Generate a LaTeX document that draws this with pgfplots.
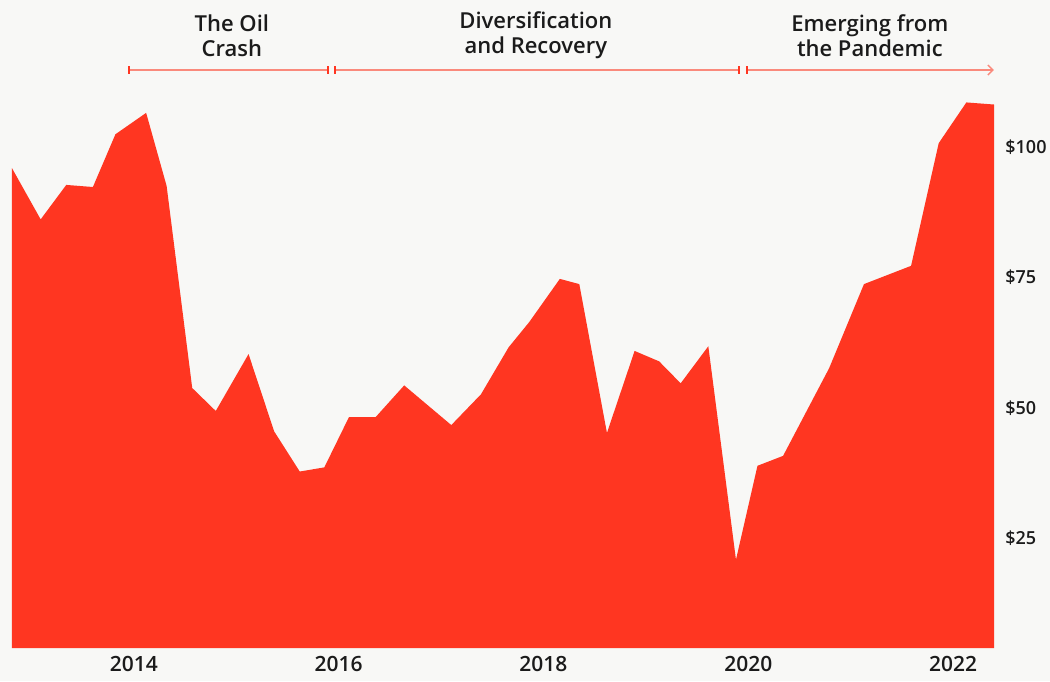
\documentclass[border=0pt]{standalone}
\usepackage{fontspec}
\IfFontExistsTF{Open Sans SemiBold}{%
  \setmainfont{Open Sans}[BoldFont={Open Sans SemiBold}]%
}{%
  \IfFontExistsTF{Open Sans Semibold}{%
    \setmainfont{Open Sans}[BoldFont={Open Sans Semibold}]%
  }{%
    \setmainfont{Open Sans}%
  }%
}
\usepackage{pgfplots}
\pgfplotsset{compat=1.18}
\usetikzlibrary{arrows.meta}
\definecolor{bg}{HTML}{F8F8F6}
\definecolor{dbred}{HTML}{FF3621}
\definecolor{salmon}{HTML}{FA8A7C}
\definecolor{txt}{HTML}{1B1B1B}
\begin{document}
\begin{tikzpicture}
\fill[bg] (-6pt,-16.5pt) rectangle (519pt,324pt);
\begin{axis}[at={(0,0)}, anchor=south west, scale only axis,
  width=491pt, height=276.7pt,
  xmin=2012.81, xmax=2022.40, ymin=4, ymax=110,
  axis line style={draw=none}, major tick length=0pt,
  clip mode=individual,
  ytick={25,50,75,100}, yticklabels={\$25,\$50,\$75,\$100},
  yticklabel pos=right,
  yticklabel style={anchor=west, inner sep=0pt, xshift=5.5pt, text=txt, font=\fontsize{9}{10}\selectfont\bfseries},
  xtick={2014,2016,2018,2020,2022}, xticklabels={2014,2016,2018,2020,2022},
  xticklabel style={anchor=north, inner sep=0pt, yshift=-4pt, text=txt, font=\fontsize{10.5}{12}\selectfont\bfseries},
]
\addplot[fill=dbred, draw=none] table {
x y
2012.81 95.9
2013.09 86.1
2013.34 92.7
2013.60 92.3
2013.82 102.4
2014.12 106.5
2014.32 92.5
2014.57 53.8
2014.80 49.4
2015.12 60.3
2015.37 45.5
2015.62 37.8
2015.86 38.6
2016.10 48.2
2016.36 48.2
2016.64 54.3
2017.10 46.7
2017.39 52.6
2017.66 61.6
2017.86 66.4
2018.16 74.7
2018.35 73.7
2018.62 45.2
2018.89 60.9
2019.13 58.9
2019.34 54.7
2019.61 61.8
2019.88 20.9
2020.09 38.9
2020.34 40.8
2020.79 57.6
2021.13 73.7
2021.59 77.2
2021.86 100.7
2022.13 108.5
2022.40 108.1
} \closedcycle;
% period brackets
\draw[salmon, line width=0.7pt] (axis cs:2013.951,114.7) -- (axis cs:2015.895,114.7);
\draw[salmon, line width=0.7pt] (axis cs:2015.963,114.7) -- (axis cs:2019.908,114.7);
\draw[salmon, line width=0.7pt, -{Straight Barb[length=2.5pt, width=5pt, line width=0.7pt]}] (axis cs:2019.986,114.7) -- (axis cs:2022.398,114.7);
\draw[dbred, line width=1pt] ([yshift=-1.8pt]axis cs:2013.951,114.7) -- ([yshift=1.8pt]axis cs:2013.951,114.7);
\draw[dbred, line width=1pt] ([yshift=-1.8pt]axis cs:2015.895,114.7) -- ([yshift=1.8pt]axis cs:2015.895,114.7);
\draw[dbred, line width=1pt] ([yshift=-1.8pt]axis cs:2015.963,114.7) -- ([yshift=1.8pt]axis cs:2015.963,114.7);
\draw[dbred, line width=1pt] ([yshift=-1.8pt]axis cs:2019.908,114.7) -- ([yshift=1.8pt]axis cs:2019.908,114.7);
\draw[dbred, line width=1pt] ([yshift=-1.8pt]axis cs:2019.986,114.7) -- ([yshift=1.8pt]axis cs:2019.986,114.7);
\node[align=center, text=txt, font=\fontsize{11}{12.5}\selectfont\bfseries] at (axis cs:2014.957,121.3) {The Oil\\Crash};
\node[align=center, text=txt, font=\fontsize{11}{12.5}\selectfont\bfseries] at (axis cs:2017.926,121.3) {Diversification\\and Recovery};
\node[align=center, text=txt, font=\fontsize{11}{12.5}\selectfont\bfseries] at (axis cs:2021.1875,121.3) {Emerging from\\the Pandemic};
\end{axis}
\pgfresetboundingbox
\path[use as bounding box] (-6pt,-16.5pt) rectangle (519pt,324pt);
\end{tikzpicture}
\end{document}
